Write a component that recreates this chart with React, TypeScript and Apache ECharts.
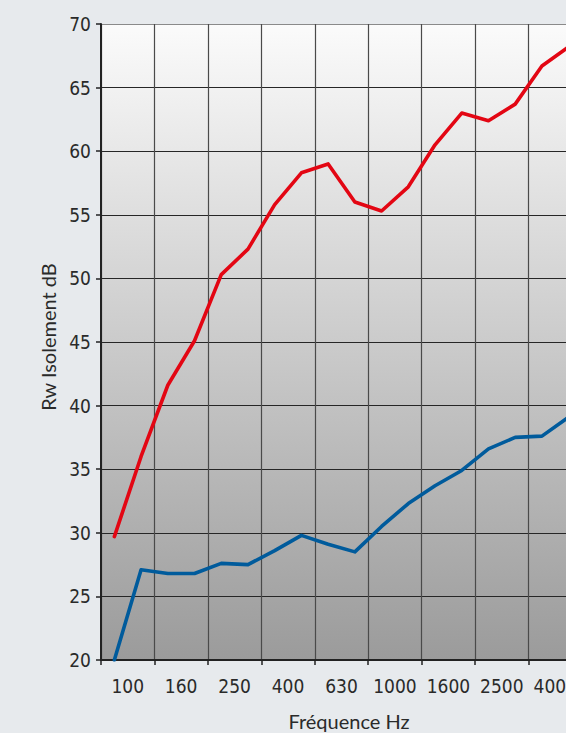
import React, { useEffect, useRef } from "react";
import * as echarts from "echarts";

const frequencies = ["100", "125", "160", "200", "250", "315", "400", "500", "630", "800", "1000", "1250", "1600", "2000", "2500", "3150", "4000", "5000"];
const labelCategories = ["100", "160", "250", "400", "630", "1000", "1600", "2500", "4000"];
const redValues = [29.7, 36.0, 41.6, 45.1, 50.3, 52.3, 55.8, 58.3, 59.0, 56.0, 55.3, 57.2, 60.5, 63.0, 62.4, 63.7, 66.7, 68.2];
const blueValues = [20.0, 27.1, 26.8, 26.8, 27.6, 27.5, 28.6, 29.8, 29.1, 28.5, 30.5, 32.3, 33.7, 34.9, 36.6, 37.5, 37.6, 39.1];
const yMin = 20;
const yMax = 70;
const yStep = 5;

const hLineColors = ["#262626", "#262626", "#262626", "#262626", "#262626", "#262626", "#262626", "#262626", "#262626", "#262626", "#8a8a8a"];

const CHART_W = 620;

export default function App() {
  const ref = useRef<HTMLDivElement>(null);
  useEffect(() => {
    if (!ref.current) return;
    const chart = echarts.init(ref.current, null, { renderer: "svg" });
    const toPoints = (vals: number[]) => vals.map((v, i) => [i * 0.5 + 0.25, v, frequencies[i]]);
    const tickFont = {
      fontFamily: "'DejaVu Sans Condensed', 'Liberation Sans Narrow', 'Noto Sans', sans-serif",
      fontSize: 19,
      color: "#2a2a2a",
    };
    chart.setOption({
      animation: false,
      backgroundColor: "#e7eaed",
      grid: {
        left: 101,
        top: 24,
        bottom: 73,
        right: CHART_W - 582,
        show: true,
        borderWidth: 0,
        backgroundColor: new echarts.graphic.LinearGradient(0, 0, 0, 1, [
          { offset: 0, color: "#fbfbfb" },
          { offset: 1, color: "#9b9b9b" },
        ]),
      },
      xAxis: [
        {
          type: "value",
          min: 0,
          max: labelCategories.length,
          interval: 1,
          axisLabel: { show: false },
          axisLine: { show: true, lineStyle: { color: "#222", width: 2 } },
          axisTick: { show: true, length: 5, lineStyle: { color: "#222", width: 1.5 } },
          splitLine: { show: true, lineStyle: { color: "#4a4a4a", width: 1.2 } },
        },
        {
          type: "category",
          data: labelCategories,
          boundaryGap: true,
          position: "bottom",
          axisLine: { show: false },
          axisTick: { show: false },
          splitLine: { show: false },
          axisLabel: { ...tickFont, margin: 16, interval: 0 },
        },
      ],
      yAxis: {
        type: "value",
        min: yMin,
        max: yMax,
        interval: yStep,
        axisLine: { show: true, lineStyle: { color: "#222", width: 2 } },
        axisTick: { show: true, length: 5, lineStyle: { color: "#222", width: 1.5 } },
        axisLabel: { ...tickFont, margin: 10 },
        splitLine: { show: true, lineStyle: { color: hLineColors, width: 1.2 } },
      },
      graphic: [
        {
          type: "text",
          x: 349,
          y: 721,
          style: {
            text: "Fréquence Hz",
            font: "20px Lato",
            fill: "#2a2a2a",
            textAlign: "center",
            textVerticalAlign: "middle",
          },
        },
        {
          type: "text",
          x: 48,
          y: 337,
          rotation: Math.PI / 2,
          style: {
            text: "Rw Isolement dB",
            font: "20px Lato",
            fill: "#2a2a2a",
            textAlign: "center",
            textVerticalAlign: "middle",
          },
        },
      ],
      series: [
        {
          name: "red",
          type: "line",
          xAxisIndex: 0,
          data: toPoints(redValues),
          showSymbol: false,
          symbol: "none",
          lineStyle: { color: "#e30613", width: 3.6, cap: "round", join: "round" },
        },
        {
          name: "blue",
          type: "line",
          xAxisIndex: 0,
          data: toPoints(blueValues),
          showSymbol: false,
          symbol: "none",
          lineStyle: { color: "#005b9c", width: 3.6, cap: "round", join: "round" },
        },
      ],
    });
    return () => chart.dispose();
  }, []);
  return (
    <div
      style={{ position: "absolute", left: 0, top: 0, width: 566, height: 733, overflow: "hidden", background: "#e7eaed" }}
    >
      <div ref={ref} style={{ width: CHART_W, height: 733 }} />
    </div>
  );
}
